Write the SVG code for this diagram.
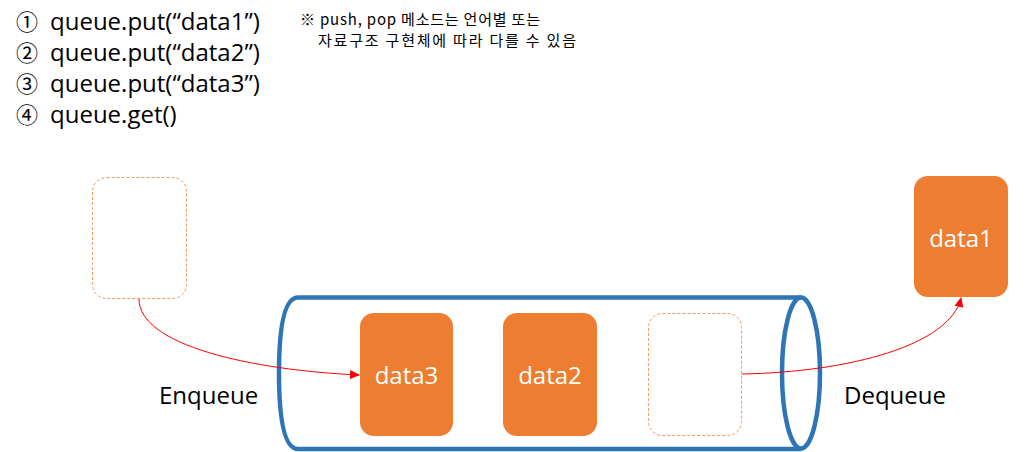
<svg xmlns="http://www.w3.org/2000/svg" width="1036" height="452" viewBox="0 0 1036 452">
<defs>
<style>
.t{font-family:"Open Sans","Noto Sans CJK KR",sans-serif;fill:#000}
.k{font-family:"Noto Sans CJK KR","Open Sans",sans-serif;fill:#000}
.box{fill:#ED7D31}
.dash{fill:#fff;stroke:#F19A60;stroke-width:1;stroke-dasharray:3 2}
.lbl{font-family:"Open Sans","Noto Sans CJK KR",sans-serif;fill:#fff;font-size:24px;text-anchor:middle}
.cyl{fill:none;stroke:#2E75B6;stroke-width:4.5}
.arr{fill:none;stroke:#FF0000;stroke-width:1}
</style>
<marker id="ah" markerWidth="10" markerHeight="10" refX="9" refY="5" orient="auto" markerUnits="userSpaceOnUse">
<path d="M0,0.5 L10,5 L0,9.5 Z" fill="#FF0000"/>
</marker>
</defs>
<rect width="1036" height="452" fill="#fff"/>
<g id="code">
<text class="k" x="16" y="30" font-size="22">①</text>
<text class="t" x="50" y="30" font-size="24">queue.put(“data1”)</text>
<text class="k" x="16" y="61" font-size="22">②</text>
<text class="t" x="50" y="61" font-size="24">queue.put(“data2”)</text>
<text class="k" x="16" y="92" font-size="22">③</text>
<text class="t" x="50" y="92" font-size="24">queue.put(“data3”)</text>
<text class="k" x="16" y="123" font-size="22">④</text>
<text class="t" x="50" y="123" font-size="24">queue.get()</text>
</g>
<g id="note">
<text class="k" x="300" y="25" font-size="15" textLength="240" lengthAdjust="spacing">※ push, pop 메소드는 언어별 또는</text>
<text class="k" x="318" y="46" font-size="15" textLength="258" lengthAdjust="spacing">자료구조 구현체에 따라 다를 수 있음</text>
</g>
<g id="cylinder">
<path class="cyl" d="M801,297.5 L298,297.5 Q279,297.5 279,373 Q279,449 298,449 L801,449"/>
<ellipse class="cyl" cx="801" cy="373" rx="19" ry="75.5"/>
</g>
<g id="incoming">
<rect class="dash" x="92.5" y="177.5" width="94" height="121" rx="14"/>
</g>
<g id="data3">
<rect class="box" x="360" y="313" width="93" height="123" rx="14"/>
<text class="lbl" x="406.5" y="384">data3</text>
</g>
<g id="data2">
<rect class="box" x="503" y="313" width="94" height="123" rx="14"/>
<text class="lbl" x="550" y="384">data2</text>
</g>
<g id="empty">
<rect class="dash" x="648.5" y="313.5" width="93" height="122" rx="14"/>
</g>
<g id="data1">
<rect class="box" x="914" y="176" width="94" height="121" rx="14"/>
<text class="lbl" x="961" y="247">data1</text>
</g>
<g id="labels">
<text class="t" x="159" y="404" font-size="24">Enqueue</text>
<text class="t" x="844" y="404" font-size="24">Dequeue</text>
</g>
<g id="connectors">
<path class="arr" d="M139,299 C139,345 250,370 359,375" marker-end="url(#ah)"/>
<path class="arr" d="M742,374 C850,372 950,345 961,298" marker-end="url(#ah)"/>
</g>
</svg>
